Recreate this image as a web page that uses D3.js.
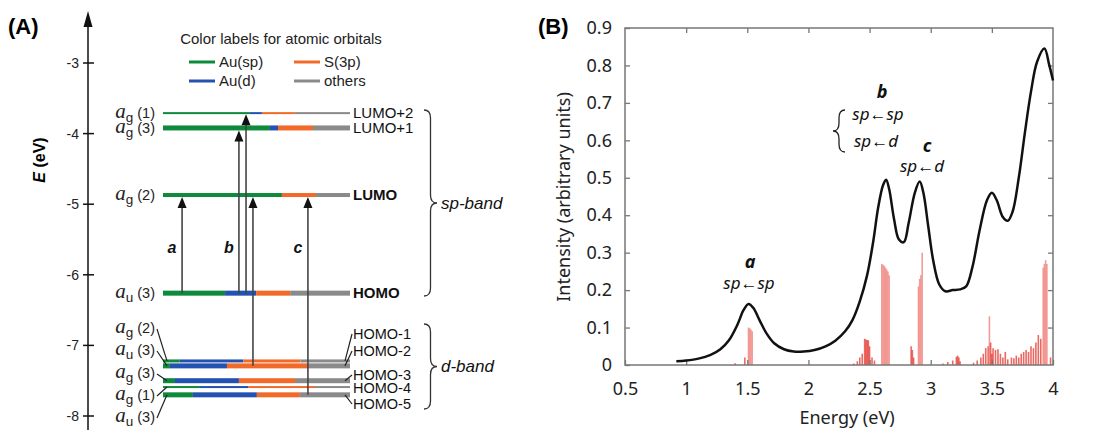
<!DOCTYPE html>
<html>
<head>
<meta charset="UTF-8">
<script src="https://d3js.org/d3.v7.min.js"></script>
<style>
  body { margin: 0; background: #fff; }
  .sansA { font-family: "Liberation Sans", Arial, sans-serif; }
  .sansB { font-family: "Noto Sans", "Open Sans", sans-serif; }
</style>
</head>
<body>
<svg></svg>
<script>
var width = 1094, height = 430;

// ---------- panel A : orbital levels
var levelNames = ["LUMO+2", "LUMO+1", "LUMO", "HOMO", "HOMO-1", "HOMO-2", "HOMO-3", "HOMO-4", "HOMO-5"];
var levelSym   = ["g", "g", "g", "u", "g", "u", "g", "g", "u"];
var levelIdx   = ["1", "3", "2", "3", "2", "3", "3", "1", "3"];
var levelE     = [-3.71, -3.92, -4.87, -6.26, -7.22, -7.29, -7.50, -7.59, -7.70];
// orbital composition (%) : Au(sp), Au(d), S(3p), rest = others
var pctSp = [46.5, 57.2, 63.6, 33.2, 9.0, 3.7, 6.4, 19.8, 16.0];
var pctD  = [6.4, 4.3, 0, 16.6, 34.0, 30.5, 34.2, 25.7, 34.2];
var pctS  = [17.6, 18.7, 18.2, 18.2, 30.5, 43.3, 30.0, 35.8, 23.0];
var energyTicks = [-3, -4, -5, -6, -7, -8];

// transitions (position along the level in %)
var transLabel = ["a", "b", "b", "b", "c"];
var transFrom  = ["HOMO", "HOMO", "HOMO", "HOMO-2", "HOMO-5"];
var transTo    = ["LUMO", "LUMO+1", "LUMO+2", "LUMO", "LUMO"];
var transPos   = [10.2, 40.6, 44.4, 48.1, 77.5];

var legendNames = ["Au(sp)", "Au(d)", "S(3p)", "others"];

// ---------- panel B : absorption spectrum
var spectrum = [[0.92,0.010],[1.0,0.012],[1.1,0.017],[1.2,0.027],[1.28,0.042],[1.35,0.066],[1.42,0.108],
  [1.47,0.147],[1.51,0.163],[1.55,0.152],[1.6,0.12],[1.66,0.083],[1.72,0.058],[1.8,0.042],[1.88,0.036],
  [1.96,0.036],[2.05,0.04],[2.14,0.05],[2.22,0.065],[2.3,0.09],[2.36,0.12],[2.42,0.17],[2.48,0.24],
  [2.53,0.33],[2.57,0.42],[2.61,0.48],[2.635,0.495],[2.66,0.47],[2.7,0.39],[2.74,0.335],[2.78,0.328],
  [2.82,0.38],[2.87,0.46],[2.91,0.49],[2.94,0.46],[2.98,0.37],[3.02,0.28],[3.07,0.215],[3.12,0.197],
  [3.18,0.2],[3.24,0.202],[3.29,0.21],[3.34,0.26],[3.4,0.36],[3.46,0.44],[3.5,0.46],[3.54,0.44],
  [3.59,0.395],[3.63,0.385],[3.67,0.41],[3.72,0.5],[3.77,0.62],[3.82,0.73],[3.87,0.81],[3.93,0.845],
  [3.97,0.8],[4.0,0.76]];
var sticks = [[1.40,0.005],[1.48,0.02],[1.51,0.10],[1.52,0.098],[1.53,0.095],[1.54,0.09],
  [2.37,0.004],[2.40,0.01],[2.42,0.02],[2.44,0.03],[2.46,0.07],[2.47,0.068],[2.48,0.067],[2.49,0.066],
  [2.50,0.05],[2.52,0.02],[2.54,0.012],
  [2.60,0.27],[2.61,0.268],[2.62,0.265],[2.63,0.26],[2.64,0.255],[2.65,0.25],[2.66,0.24],
  [2.84,0.05],[2.85,0.04],[2.86,0.02],[2.90,0.21],[2.91,0.23],[2.92,0.24],[2.93,0.30],
  [3.10,0.004],[3.14,0.008],[3.18,0.012],[3.21,0.022],[3.22,0.025],[3.23,0.02],[3.24,0.01],
  [3.35,0.006],[3.38,0.012],[3.41,0.02],[3.43,0.03],[3.45,0.045],[3.47,0.05],[3.48,0.13],[3.49,0.06],
  [3.50,0.03],[3.51,0.045],[3.53,0.04],[3.55,0.042],[3.57,0.03],[3.59,0.02],[3.61,0.035],[3.63,0.015],
  [3.66,0.02],[3.68,0.018],[3.70,0.025],[3.72,0.02],[3.74,0.03],[3.76,0.035],[3.78,0.04],[3.80,0.035],
  [3.82,0.05],[3.84,0.045],[3.86,0.06],[3.88,0.08],[3.90,0.07],[3.92,0.26],[3.93,0.27],[3.94,0.28],
  [3.95,0.27],[3.98,0.02]];
var xTicksB = [0.5, 1, 1.5, 2, 2.5, 3, 3.5, 4];
var yTicksB = [0, 0.1, 0.2, 0.3, 0.4, 0.5, 0.6, 0.7, 0.8, 0.9];

// ---------- styles
var orbColor = {"Au(sp)": "#0f8a3c", "Au(d)": "#2452b0", "S(3p)": "#f26a2a", "others": "#8a8a8a"};
var levelStroke = {"LUMO+2": 2, "LUMO+1": 5, "LUMO": 4, "HOMO": 5, "HOMO-1": 3,
                   "HOMO-2": 5, "HOMO-3": 5, "HOMO-4": 2, "HOMO-5": 5};

var svg = d3.select("svg").attr("width", width).attr("height", height);
svg.append("rect").attr("width", width).attr("height", height).attr("fill", "#fff");

// =================== PANEL A ===================
var gA = svg.append("g").attr("class", "sansA");
var yE = d3.scaleLinear().domain([-3, -8]).range([63, 416]);
var xL = d3.scaleLinear().domain([0, 100]).range([163, 350]);

gA.append("text").attr("x", 8).attr("y", 34).attr("font-size", 22).attr("font-weight", "bold").text("(A)");

// vertical energy axis
gA.append("line").attr("x1", 88).attr("x2", 88).attr("y1", 430).attr("y2", 24)
  .attr("stroke", "#111").attr("stroke-width", 1.5);
gA.append("path").attr("d", "M88,11 L83.5,27 L92.5,27 Z").attr("fill", "#111");
var et = gA.selectAll(".etick").data(energyTicks).enter().append("g")
  .attr("transform", function (d) { return "translate(0," + yE(d) + ")"; });
et.append("line").attr("x1", 83).attr("x2", 94).attr("stroke", "#111").attr("stroke-width", 1.5);
et.append("text").attr("x", 79).attr("dy", "0.36em").attr("text-anchor", "end")
  .attr("font-size", 14).attr("fill", "#222").text(function (d) { return String(d); });

var eLab = gA.append("text").attr("transform", "translate(45,160) rotate(-90)")
  .attr("text-anchor", "middle").attr("font-size", 16).attr("font-weight", "bold");
eLab.append("tspan").attr("font-style", "italic").text("E");
eLab.append("tspan").text(" (eV)");

// legend
gA.append("text").attr("x", 281).attr("y", 44).attr("text-anchor", "middle")
  .attr("font-size", 15).attr("fill", "#222").text("Color labels for atomic orbitals");
var legPos = [[189, 62], [189, 81], [294, 62], [294, 81]];
legendNames.forEach(function (n, i) {
  gA.append("line").attr("x1", legPos[i][0]).attr("x2", legPos[i][0] + 26)
    .attr("y1", legPos[i][1]).attr("y2", legPos[i][1])
    .attr("stroke", orbColor[n]).attr("stroke-width", 3);
  gA.append("text").attr("x", legPos[i][0] + 30).attr("y", legPos[i][1]).attr("dy", "0.36em")
    .attr("font-size", 15).attr("fill", "#222").text(n);
});

// levels
var levels = levelNames.map(function (n, i) {
  var parts = [
    {k: "Au(sp)", v: pctSp[i]}, {k: "Au(d)", v: pctD[i]}, {k: "S(3p)", v: pctS[i]},
    {k: "others", v: 100 - pctSp[i] - pctD[i] - pctS[i]}
  ];
  var acc = 0;
  parts.forEach(function (p) { p.x0 = acc; acc += p.v; p.x1 = acc; });
  return {name: n, sym: levelSym[i], idx: levelIdx[i], E: levelE[i], parts: parts, i: i};
});
var byName = {};
levels.forEach(function (l) { byName[l.name] = l; });

var lv = gA.selectAll(".level").data(levels).enter().append("g")
  .attr("transform", function (d) { return "translate(0," + yE(d.E) + ")"; });
lv.selectAll("rect").data(function (d) {
  return d.parts.map(function (p) { return {p: p, w: levelStroke[d.name]}; });
}).enter().append("rect")
  .attr("x", function (d) { return xL(d.p.x0); })
  .attr("width", function (d) { return Math.max(0, xL(d.p.x1) - xL(d.p.x0)); })
  .attr("y", function (d) { return -d.w / 2; })
  .attr("height", function (d) { return d.w; })
  .attr("fill", function (d) { return orbColor[d.p.k]; });

// left symmetry labels / right level names
var leftY = [null, null, null, null, 333, 355, 378, 400, 422];
var rightY = [null, null, null, null, 339, 356, 380, 393, 409];
levels.forEach(function (l, i) {
  var ly = leftY[i] == null ? yE(l.E) + 5 : leftY[i];
  var t = gA.append("text").attr("x", 155).attr("y", ly).attr("text-anchor", "end").attr("fill", "#222");
  t.append("tspan").attr("font-family", "Liberation Serif, serif").attr("font-style", "italic")
    .attr("font-size", 21).text("a");
  t.append("tspan").attr("font-size", 13.5).attr("dy", 4).text(l.sym);
  t.append("tspan").attr("font-size", 14.5).attr("dy", -4).text(" (" + l.idx + ")");
  if (leftY[i] != null) {
    gA.append("line").attr("x1", 157).attr("y1", ly - 4).attr("x2", 167).attr("y2", yE(l.E))
      .attr("stroke", "#222").attr("stroke-width", 1.2);
  }
  var ry = rightY[i] == null ? yE(l.E) + 5 : rightY[i];
  gA.append("text").attr("x", 353).attr("y", ry).attr("font-size", rightY[i] == null ? 15 : 14.5)
    .attr("fill", "#111")
    .attr("font-weight", (l.name === "LUMO" || l.name === "HOMO") ? "bold" : "normal")
    .text(l.name);
  if (rightY[i] != null && l.name !== "HOMO-4") {
    gA.append("line").attr("x1", 352).attr("y1", ry - 5).attr("x2", 345).attr("y2", yE(l.E))
      .attr("stroke", "#222").attr("stroke-width", 1.2);
  }
});

// transition arrows
transLabel.forEach(function (lab, i) {
  var ax = xL(transPos[i]);
  var from = byName[transFrom[i]], to = byName[transTo[i]];
  var yTip = yE(to.E) + levelStroke[to.name] / 2;
  gA.append("line").attr("x1", ax).attr("x2", ax).attr("y1", yE(from.E)).attr("y2", yTip + 8)
    .attr("stroke", "#444").attr("stroke-width", 1.6);
  gA.append("path").attr("d", "M" + ax + "," + yTip + " l-4.5,11 l9,0 Z").attr("fill", "#111");
});
[["a", 0], ["b", 1], ["c", 4]].forEach(function (d) {
  gA.append("text").attr("x", xL(transPos[d[1]]) - 10).attr("y", 253).attr("text-anchor", "middle")
    .attr("font-size", 16).attr("font-weight", "bold").attr("font-style", "italic").attr("fill", "#111")
    .text(d[0]);
});

// braces
function brace(x, y1, y2, w) {
  var ym = (y1 + y2) / 2, h = w / 2, r = 8;
  return "M" + x + "," + y1 + " Q" + (x + h) + "," + y1 + " " + (x + h) + "," + (y1 + r) +
    " L" + (x + h) + "," + (ym - r) + " Q" + (x + h) + "," + ym + " " + (x + w) + "," + ym +
    " Q" + (x + h) + "," + ym + " " + (x + h) + "," + (ym + r) +
    " L" + (x + h) + "," + (y2 - r) + " Q" + (x + h) + "," + y2 + " " + x + "," + y2;
}
gA.append("path").attr("d", brace(424, 110, 296, 13)).attr("fill", "none").attr("stroke", "#333").attr("stroke-width", 1.3);
gA.append("path").attr("d", brace(424, 324, 409, 13)).attr("fill", "none").attr("stroke", "#333").attr("stroke-width", 1.3);
gA.append("text").attr("x", 441).attr("y", 209).attr("font-size", 17).attr("font-style", "italic")
  .attr("fill", "#111").text("sp-band");
gA.append("text").attr("x", 441).attr("y", 372).attr("font-size", 17).attr("font-style", "italic")
  .attr("fill", "#111").text("d-band");

// =================== PANEL B ===================
var gB = svg.append("g").attr("class", "sansB");
var x = d3.scaleLinear().domain([0.5, 4]).range([625, 1053]);
var y = d3.scaleLinear().domain([0, 0.9]).range([365, 28]);

gB.append("text").attr("x", 538).attr("y", 34).attr("font-size", 22).attr("font-weight", "bold")
  .attr("font-family", "Liberation Sans, Arial, sans-serif").text("(B)");

// sticks: tall ones salmon, small dense ones deeper red
gB.append("g").selectAll("line").data(sticks).enter().append("line")
  .attr("x1", function (d) { return x(d[0]); }).attr("x2", function (d) { return x(d[0]); })
  .attr("y1", y(0)).attr("y2", function (d) { return y(d[1]); })
  .attr("stroke", function (d) { return d[1] > 0.085 ? "#f08a84" : "#e2352d"; })
  .attr("stroke-opacity", function (d) { return d[1] > 0.085 ? 0.85 : 0.75; })
  .attr("stroke-width", 1.6);

// axes (ticks inward)
var axB = d3.axisBottom(x).tickValues(xTicksB).tickSize(-5).tickPadding(17)
  .tickFormat(function (d) { return String(d); });
var axT = d3.axisTop(x).tickValues(xTicksB.slice(1, -1)).tickSize(-5).tickFormat("");
var axL = d3.axisLeft(y).tickValues(yTicksB).tickSize(-5).tickPadding(13)
  .tickFormat(function (d) { return String(d); });
var axR = d3.axisRight(y).tickValues(yTicksB.slice(1, -1)).tickSize(-5).tickFormat("");
[[axB, "translate(0,365)"], [axT, "translate(0,28)"], [axL, "translate(625,0)"], [axR, "translate(1053,0)"]]
  .forEach(function (a) {
    var g = gB.append("g").attr("transform", a[1]).call(a[0]);
    g.select(".domain").remove();
    g.selectAll("line").attr("stroke", "#777").attr("stroke-width", 1.3);
    g.selectAll("text").attr("font-size", 18).attr("fill", "#222")
      .attr("font-family", "Noto Sans, Open Sans, sans-serif");
  });
gB.append("rect").attr("x", 625).attr("y", 28).attr("width", 1053 - 625).attr("height", 365 - 28)
  .attr("fill", "none").attr("stroke", "#777").attr("stroke-width", 1.5);

// spectrum curve
var line = d3.line().x(function (d) { return x(d[0]); }).y(function (d) { return y(d[1]); })
  .curve(d3.curveCatmullRom.alpha(0.5));
gB.append("path").datum(spectrum).attr("d", line).attr("fill", "none")
  .attr("stroke", "#111").attr("stroke-width", 2.5);

gB.append("text").attr("x", 847).attr("y", 424).attr("text-anchor", "middle").attr("font-size", 18)
  .attr("fill", "#222").text("Energy (eV)");
gB.append("text").attr("transform", "translate(570,197) rotate(-90)").attr("text-anchor", "middle")
  .attr("font-size", 18).attr("fill", "#222").text("Intensity (arbitrary units)");

// annotations
function ann(cx, yb, txt, bold) {
  gB.append("text").attr("x", cx).attr("y", yb).attr("text-anchor", "middle")
    .attr("font-size", bold ? 18 : 17).attr("font-style", "italic")
    .attr("font-weight", bold ? "bold" : "normal").attr("fill", "#111").text(txt);
}
ann(750, 268, "a", true);
ann(749, 289, "sp\u2190sp", false);
ann(882, 98, "b", true);
ann(878, 120, "sp\u2190sp", false);
ann(876, 147, "sp\u2190d", false);
ann(927, 152, "c", true);
ann(922, 172, "sp\u2190d", false);
gB.append("path").attr("d", brace(845, 110, 152, -12)).attr("fill", "none")
  .attr("stroke", "#222").attr("stroke-width", 1.3);
</script>
</body>
</html>
